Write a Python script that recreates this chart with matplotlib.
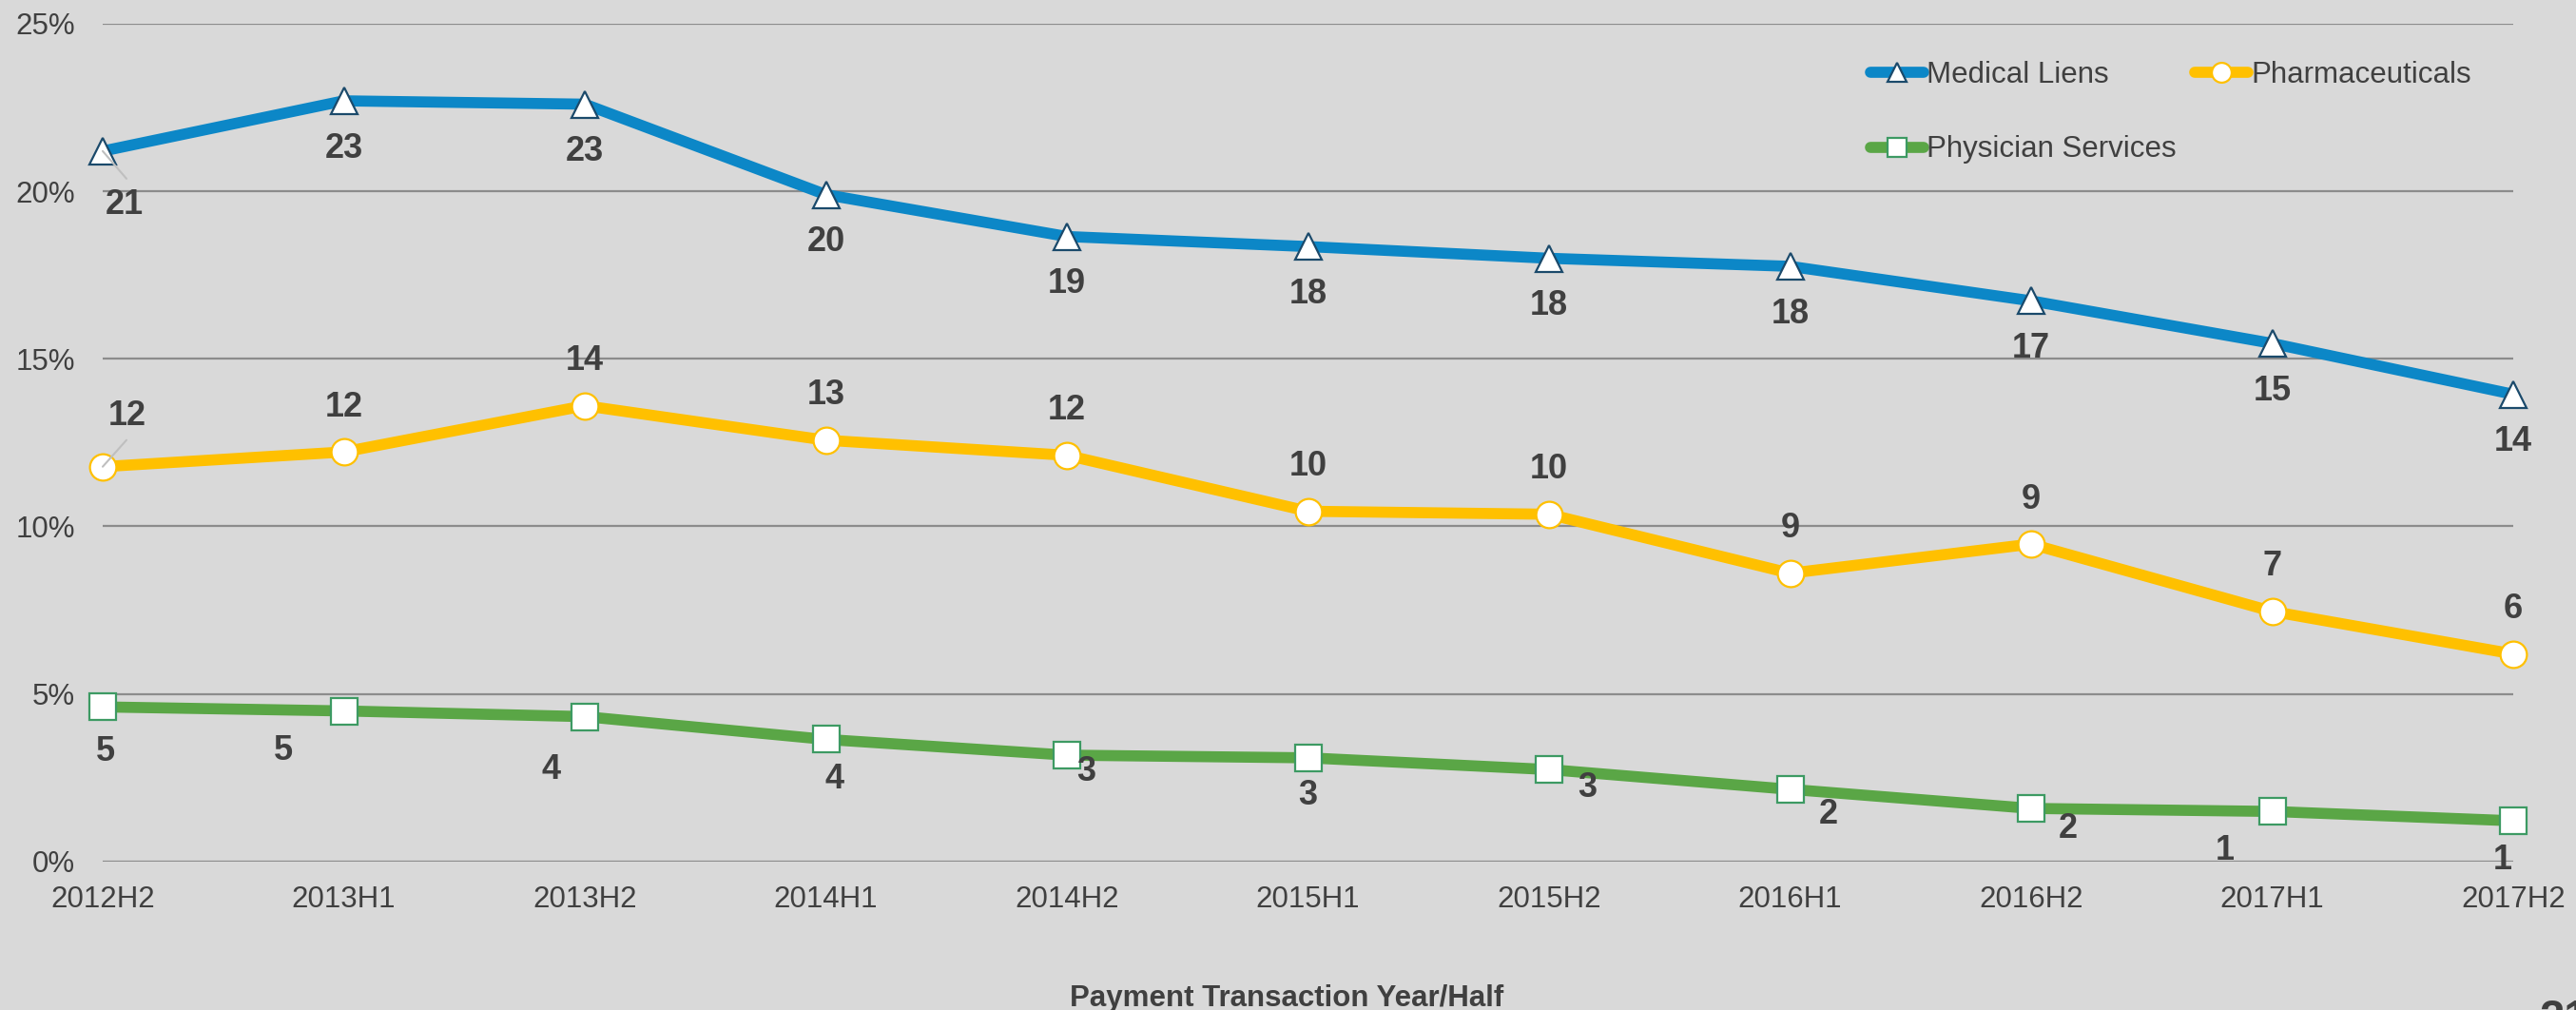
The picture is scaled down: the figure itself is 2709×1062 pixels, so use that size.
import matplotlib
matplotlib.use('Agg')
from matplotlib import pyplot as plt
from matplotlib.ticker import FuncFormatter

# dane (udział w %)
periods = ['2012H2', '2013H1', '2013H2', '2014H1', '2014H2', '2015H1',
           '2015H2', '2016H1', '2016H2', '2017H1', '2017H2']
medical_liens = [21.2, 22.7, 22.6, 19.9, 18.65, 18.35, 18.0, 17.76, 16.73, 15.46, 13.94]
pharmaceuticals = [11.78, 12.22, 13.6, 12.57, 12.12, 10.45, 10.36, 8.6, 9.47, 7.46, 6.19]
physician_services = [4.61, 4.49, 4.32, 3.64, 3.17, 3.09, 2.74, 2.15, 1.58, 1.49, 1.21]

medical_labels = [21, 23, 23, 20, 19, 18, 18, 18, 17, 15, 14]
pharma_labels = [12, 12, 14, 13, 12, 10, 10, 9, 9, 7, 6]
physician_labels = [5, 5, 4, 4, 3, 3, 3, 2, 2, 1, 1]

# przesunięcia etykiet w pikselach (dx, dy), dy dodatnie = w górę
medical_offsets = [(23, -57)] + [(0, -50)] * 10
pharma_offsets = [(26, 53)] + [(0, 47)] * 10
physician_offsets = [(3, -47), (-64, -42), (-35, -56), (9, -42), (20, -17), (0, -40),
                     (40, -19), (40, -27), (39, -21), (-50, -41), (-11, -41)]

bg = '#D9D9D9'
text_color = '#404040'
plt.rcParams['font.family'] = ['Liberation Sans', 'DejaVu Sans']

fig = plt.figure(figsize=(27.09, 10.62), dpi=100, facecolor=bg)
ax = fig.add_axes([108 / 2709, 1 - 905.7 / 1062, (2643 - 108) / 2709, (905.7 - 25) / 1062])
ax.set_facecolor(bg)

x = list(range(len(periods)))

series = [
    ('Medical Liens', medical_liens, medical_labels, medical_offsets, '#0C87C7', '^', '#1B4A6B'),
    ('Pharmaceuticals', pharmaceuticals, pharma_labels, pharma_offsets, '#FFC000', 'o', '#FFC000'),
    ('Physician Services', physician_services, physician_labels, physician_offsets, '#5AA646', 's', '#3D9A63'),
]

handles = {}
for name, values, labels, offsets, color, marker, edge in series:
    line, = ax.plot(x, values, color=color, lw=8.4, marker=marker, markersize=20,
                    markerfacecolor='white', markeredgecolor=edge, markeredgewidth=1.6,
                    solid_capstyle='round', clip_on=False, zorder=3, label=name)
    handles[name] = line
    for i, (v, lab, off) in enumerate(zip(values, labels, offsets)):
        ax.annotate(str(lab), (i, v), xytext=off, textcoords='offset pixels',
                    ha='center', va='center', fontsize=26, fontweight='bold',
                    color=text_color, zorder=5, annotation_clip=False)

# linie odniesienia przy pierwszych punktach
ax.annotate('', (0, medical_liens[0]), xytext=(25, -29), textcoords='offset pixels',
            arrowprops=dict(arrowstyle='-', color='#BFBFBF', lw=1.5, shrinkA=0, shrinkB=0),
            zorder=6, annotation_clip=False)
ax.annotate('', (0, pharmaceuticals[0]), xytext=(25, 28), textcoords='offset pixels',
            arrowprops=dict(arrowstyle='-', color='#BFBFBF', lw=1.5, shrinkA=0, shrinkB=0),
            zorder=6, annotation_clip=False)

ax.set_xlim(0, len(periods) - 1)
ax.set_ylim(0, 25)
ax.set_yticks([0, 5, 10, 15, 20, 25])
ax.yaxis.set_major_formatter(FuncFormatter(lambda v, p: '{:.0f}%'.format(v)))
ax.set_xticks(x)
ax.set_xticklabels(periods)
ax.tick_params(axis='both', length=0, labelsize=22.5, labelcolor=text_color)
ax.tick_params(axis='x', pad=18)
ax.tick_params(axis='y', pad=21)
ax.grid(axis='y', color='#8C8C8C', lw=1.6)
ax.set_axisbelow(True)
for s in ax.spines.values():
    s.set_visible(False)

leg = ax.legend([handles['Medical Liens'], handles['Physician Services'], handles['Pharmaceuticals']],
                ['Medical Liens', 'Physician Services', 'Pharmaceuticals'],
                ncol=2, loc='upper left', bbox_to_anchor=(1967 / 2709, 1 - 64 / 1062),
                bbox_transform=fig.transFigure, frameon=False, fontsize=22.5,
                handlelength=1.8, handletextpad=0.1, columnspacing=0.6,
                labelspacing=1.55, borderpad=0, borderaxespad=0, markerscale=0.75)
for t in leg.get_texts():
    t.set_color(text_color)

fig.text(0.4995, 1 - 1050 / 1062, 'Payment Transaction Year/Half', ha='center', va='center',
         fontsize=22.5, fontweight='bold', color=text_color)
# obcięty numer strony w prawym dolnym rogu
fig.text(2670 / 2709, 1 - 1050 / 1062, '21', ha='left', va='top', fontsize=34,
         fontweight='bold', color=text_color)

fig.savefig('out.png', dpi=100, facecolor=bg)
